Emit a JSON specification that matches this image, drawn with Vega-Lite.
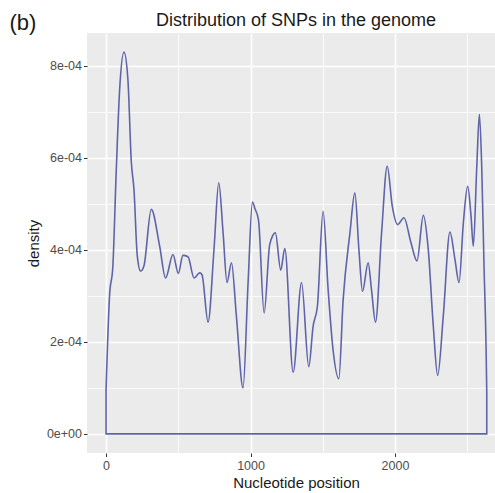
{
  "$schema": "https://vega.github.io/schema/vega-lite/v6.json",
  "autosize": {"type": "none"},
  "width": 408,
  "height": 420,
  "padding": {"left": 87, "top": 33, "right": 0, "bottom": 40},
  "background": "white",
  "title": {"text": "Distribution of SNPs in the genome", "fontSize": 18, "font": "Liberation Sans", "fontWeight": "normal", "color": "#1a1a1a", "anchor": "middle", "offset": 3, "dx": 5, "dy": 20.5},
  "config": {"view": {"fill": "#EBEBEB", "stroke": null}, "font": "Liberation Sans"},
  "layer": [
    {
      "data": {"values": [
        {"position": 0, "density": 0.000096},
        {"position": 24, "density": 0.00030},
        {"position": 47, "density": 0.000365},
        {"position": 70, "density": 0.000568},
        {"position": 94, "density": 0.000749},
        {"position": 124, "density": 0.00083},
        {"position": 151, "density": 0.000771},
        {"position": 175, "density": 0.00059},
        {"position": 193, "density": 0.000532},
        {"position": 216, "density": 0.000387},
        {"position": 239, "density": 0.000354},
        {"position": 262, "density": 0.000365},
        {"position": 313, "density": 0.000488},
        {"position": 371, "density": 0.000408},
        {"position": 412, "density": 0.000339},
        {"position": 463, "density": 0.00039},
        {"position": 500, "density": 0.000349},
        {"position": 532, "density": 0.000388},
        {"position": 567, "density": 0.000385},
        {"position": 609, "density": 0.000339},
        {"position": 648, "density": 0.00035},
        {"position": 664, "density": 0.000346},
        {"position": 706, "density": 0.000243},
        {"position": 747, "density": 0.000401},
        {"position": 780, "density": 0.000546},
        {"position": 810, "density": 0.000437},
        {"position": 837, "density": 0.000329},
        {"position": 868, "density": 0.000372},
        {"position": 902, "density": 0.000256},
        {"position": 948, "density": 0.0001},
        {"position": 983, "density": 0.000329},
        {"position": 1013, "density": 0.000504},
        {"position": 1030, "density": 0.00049},
        {"position": 1055, "density": 0.000465},
        {"position": 1094, "density": 0.000263},
        {"position": 1133, "density": 0.000412},
        {"position": 1172, "density": 0.000437},
        {"position": 1209, "density": 0.000356},
        {"position": 1237, "density": 0.000403},
        {"position": 1295, "density": 0.000134},
        {"position": 1353, "density": 0.000329},
        {"position": 1403, "density": 0.000146},
        {"position": 1433, "density": 0.000234},
        {"position": 1463, "density": 0.000278},
        {"position": 1502, "density": 0.000484},
        {"position": 1537, "density": 0.000314},
        {"position": 1571, "density": 0.000183},
        {"position": 1611, "density": 0.00012},
        {"position": 1641, "density": 0.000292},
        {"position": 1688, "density": 0.000437},
        {"position": 1722, "density": 0.000524},
        {"position": 1750, "density": 0.000401},
        {"position": 1775, "density": 0.00031},
        {"position": 1814, "density": 0.000372},
        {"position": 1837, "density": 0.000314},
        {"position": 1865, "density": 0.000243},
        {"position": 1907, "density": 0.000437},
        {"position": 1946, "density": 0.000582},
        {"position": 1981, "density": 0.000495},
        {"position": 2018, "density": 0.000455},
        {"position": 2062, "density": 0.00047},
        {"position": 2110, "density": 0.000416},
        {"position": 2152, "density": 0.000376},
        {"position": 2196, "density": 0.000475},
        {"position": 2230, "density": 0.000401},
        {"position": 2265, "density": 0.000234},
        {"position": 2295, "density": 0.000127},
        {"position": 2334, "density": 0.000256},
        {"position": 2380, "density": 0.000439},
        {"position": 2415, "density": 0.000379},
        {"position": 2443, "density": 0.000329},
        {"position": 2473, "density": 0.000459},
        {"position": 2503, "density": 0.000538},
        {"position": 2526, "density": 0.000474},
        {"position": 2542, "density": 0.000408},
        {"position": 2566, "density": 0.000582},
        {"position": 2584, "density": 0.000695},
        {"position": 2600, "density": 0.000582},
        {"position": 2616, "density": 0.000365},
        {"position": 2630, "density": 0.000191},
        {"position": 2635, "density": 0.00009}
      ]},
      "mark": {"type": "area", "interpolate": "monotone", "fillOpacity": 0, "stroke": "#5f64a8", "strokeWidth": 1.6},
      "encoding": {
        "x": {
          "field": "position", "type": "quantitative",
          "scale": {"domain": [-132, 2692], "nice": false, "zero": false},
          "axis": {
            "title": "Nucleotide position",
            "values": [0, 500, 1000, 1500, 2000, 2500],
            "labelExpr": "datum.value % 1000 == 0 ? format(datum.value, 'd') : ''",
            "domain": false,
            "grid": true,
            "gridColor": "white",
            "gridWidth": {"condition": {"test": "datum.value % 1000 != 0", "value": 0.8}, "value": 1.6},
            "tickColor": "#333333",
            "tickSize": 3.5,
            "tickOpacity": {"condition": {"test": "datum.value % 1000 != 0", "value": 0}, "value": 1},
            "labelColor": "#4D4D4D",
            "labelFontSize": 12.5,
            "labelPadding": 3,
            "labelFlush": false,
            "labelOverlap": false,
            "titleFontSize": 15,
            "titleFontWeight": "normal",
            "titleColor": "#1a1a1a",
            "titlePadding": 3,
            "titleX": 209
          }
        },
        "y": {
          "field": "density", "type": "quantitative",
          "scale": {"domain": [-0.0000415, 0.0008715], "nice": false, "zero": false},
          "axis": {
            "title": "density",
            "values": [0, 0.0001, 0.0002, 0.0003, 0.0004, 0.0005, 0.0006, 0.0007, 0.0008],
            "labelExpr": "round(datum.value*10000) % 2 == 1 ? '' : (datum.value == 0 ? '0e+00' : replace(format(datum.value, '.0e'), 'e-', 'e-0'))",
            "domain": false,
            "grid": true,
            "gridColor": "white",
            "gridWidth": {"condition": {"test": "round(datum.value*10000) % 2 == 1", "value": 0.8}, "value": 1.6},
            "tickColor": "#333333",
            "tickSize": 3.5,
            "tickOpacity": {"condition": {"test": "round(datum.value*10000) % 2 == 1", "value": 0}, "value": 1},
            "labelColor": "#4D4D4D",
            "labelFontSize": 12.5,
            "labelPadding": 2,
            "labelFlush": false,
            "labelOverlap": false,
            "titleFontSize": 15,
            "titleFontWeight": "normal",
            "titleColor": "#1a1a1a",
            "titlePadding": 5
          }
        }
      }
    },
    {
      "data": {"values": [{"label": "(b)"}]},
      "mark": {"type": "text", "align": "left", "baseline": "alphabetic", "fontSize": 22, "color": "#1a1a1a"},
      "encoding": {
        "text": {"field": "label"},
        "x": {"datum": -669},
        "y": {"datum": 0.000877}
      }
    }
  ]
}
